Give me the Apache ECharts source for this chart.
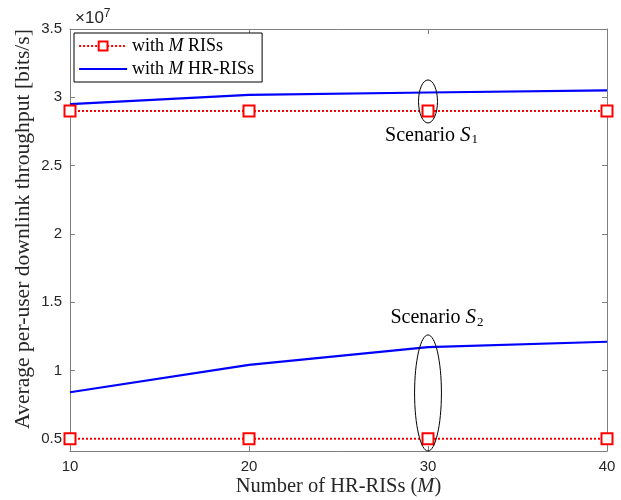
<!DOCTYPE html>
<html><head><meta charset="utf-8">
<script src="https://cdn.jsdelivr.net/npm/echarts@6/dist/echarts.min.js"></script>
<style>html,body{margin:0;padding:0;background:#fff}#c{width:621px;height:500px}</style>
</head><body><div id="c"></div>
<script>
var xValues = [10, 20, 30, 40];
var risS1 = [2.9e7, 2.9e7, 2.9e7, 2.9e7];
var hrS1 = [2.95e7, 3.017e7, 3.035e7, 3.05e7];
var risS2 = [0.5e7, 0.5e7, 0.5e7, 0.5e7];
var hrS2 = [0.84e7, 1.04e7, 1.17e7, 1.21e7];
var yTicks = [0.5e7, 1e7, 1.5e7, 2e7, 2.5e7, 3e7, 3.5e7];
var xTicks = [10, 20, 30, 40];
var nameRIS = 'with M RISs';
var nameHR = 'with M HR-RISs';

function pairs(xs, ys){ return xs.map(function(x,i){return [x, ys[i]];}); }
var serif = 'Liberation Serif';
var sans = 'Liberation Sans';
var axCol = '#7f7f7f';
var txtCol = '#262626';

var chart = echarts.init(document.getElementById('c'), null, {renderer:'canvas'});
function risSeries(data){
  return {name:nameRIS, type:'line', data:pairs(xValues,data), symbol:'rect', symbolSize:11,
    itemStyle:{color:'#fff', borderColor:'#ff0000', borderWidth:2},
    lineStyle:{color:'#ff0000', width:2, type:[2,2]}, z:3, animation:false};
}
function hrSeries(data){
  return {name:nameHR, type:'line', data:pairs(xValues,data), showSymbol:false, symbol:'none',
    itemStyle:{color:'#0000ff'}, lineStyle:{color:'#0000ff', width:2.2}, z:2, animation:false};
}
var legendRich = {i:{fontFamily:serif, fontStyle:'italic', fontSize:18, color:'#000'}};
chart.setOption({
  animation:false,
  grid:{left:70, right:14, top:29, bottom:49, containLabel:false, outerBoundsMode:'none'},
  title:{text:'×10{s|7}', left:70, top:3, textStyle:{fontFamily:sans, fontSize:17, fontWeight:'normal', color:txtCol,
    rich:{s:{fontFamily:sans, fontSize:12, color:txtCol, verticalAlign:'top', padding:[0,0,9,0]}}}},
  legend:{left:74, top:33, orient:'vertical', itemGap:5, itemWidth:48, itemHeight:11,
    backgroundColor:'#fff', borderColor:'#000', borderWidth:1, borderRadius:0, padding:[4,8,4,4],
    data:[{name:nameRIS},{name:nameHR, itemStyle:{opacity:0}, lineStyle:{color:'#0000ff', width:2.2, opacity:1}}],
    formatter:function(n){ return n.replace(' M ', ' {i|M} '); },
    textStyle:{fontFamily:serif, fontSize:18, color:'#000', rich:legendRich}},
  xAxis:[{type:'value', min:10, max:40, interval:10, position:'bottom',
    name:'Number of HR-RISs ({i|M})', nameLocation:'middle', nameGap:25, nameMoveOverlap:false,
    nameTextStyle:{fontFamily:serif, fontSize:20.5, color:txtCol, rich:{i:{fontFamily:serif, fontStyle:'italic', fontSize:20.5, color:txtCol}}},
    axisLine:{lineStyle:{color:axCol}}, axisTick:{inside:true, length:5, lineStyle:{color:axCol}},
    axisLabel:{fontFamily:sans, fontSize:15, color:txtCol, margin:8, customValues:xTicks}, splitLine:{show:false}},
   {type:'value', min:10, max:40, interval:10, position:'top',
    axisLine:{lineStyle:{color:axCol}}, axisTick:{inside:true, length:5, lineStyle:{color:axCol}},
    axisLabel:{show:false}, splitLine:{show:false}}],
  yAxis:[{type:'value', min:0.41e7, max:3.5e7, position:'left',
    name:'Average per-user downlink throughput [bits/s]', nameLocation:'middle', nameGap:36, nameMoveOverlap:false,
    nameTextStyle:{fontFamily:serif, fontSize:21.6, color:txtCol, padding:[0,0,0,22]},
    axisLine:{show:true, lineStyle:{color:axCol}},
    axisTick:{show:true, inside:true, length:5, lineStyle:{color:axCol}, customValues:yTicks},
    axisLabel:{fontFamily:sans, fontSize:15, color:txtCol, margin:8, customValues:yTicks,
      formatter:function(v){ return String(+(v/1e7).toFixed(1)); }},
    splitLine:{show:false}},
   {type:'value', min:0.41e7, max:3.5e7, position:'right',
    axisLine:{show:true, lineStyle:{color:axCol}},
    axisTick:{show:true, inside:true, length:5, lineStyle:{color:axCol}, customValues:yTicks},
    axisLabel:{show:false}, splitLine:{show:false}}],
  series:[risSeries(risS1), hrSeries(hrS1), risSeries(risS2), hrSeries(hrS2)]
});

// annotations (data coordinates)
var ellipses = [
  {x0:29.47, x1:30.53, y0:2.812e7, y1:3.127e7},
  {x0:29.25, x1:30.75, y0:0.41e7, y1:1.26e7}
];
var notes = [
  {x:30.2, y:2.72e7, sub:'1'},
  {x:30.5, y:1.385e7, sub:'2'}
];
var g = [];
ellipses.forEach(function(e){
  var a = chart.convertToPixel({gridIndex:0}, [e.x0, e.y1]);
  var b = chart.convertToPixel({gridIndex:0}, [e.x1, e.y0]);
  g.push({type:'ellipse', shape:{cx:(a[0]+b[0])/2, cy:(a[1]+b[1])/2, rx:(b[0]-a[0])/2, ry:(b[1]-a[1])/2},
    style:{fill:'none', stroke:'#000', lineWidth:1}, z:10});
});
notes.forEach(function(n){
  var p = chart.convertToPixel({gridIndex:0}, [n.x, n.y]);
  g.push({type:'text', x:p[0], y:p[1], z:10, style:{text:'Scenario {s|S}{b|'+n.sub+'}', fill:'#000',
    font:'20px '+serif, align:'center', verticalAlign:'middle',
    rich:{s:{fontFamily:serif, fontStyle:'italic', fontSize:21, fill:'#000'},
          b:{fontFamily:serif, fontSize:13, fill:'#000', padding:[9,0,0,1]}}}});
});
chart.setOption({graphic:g});
</script></body></html>
